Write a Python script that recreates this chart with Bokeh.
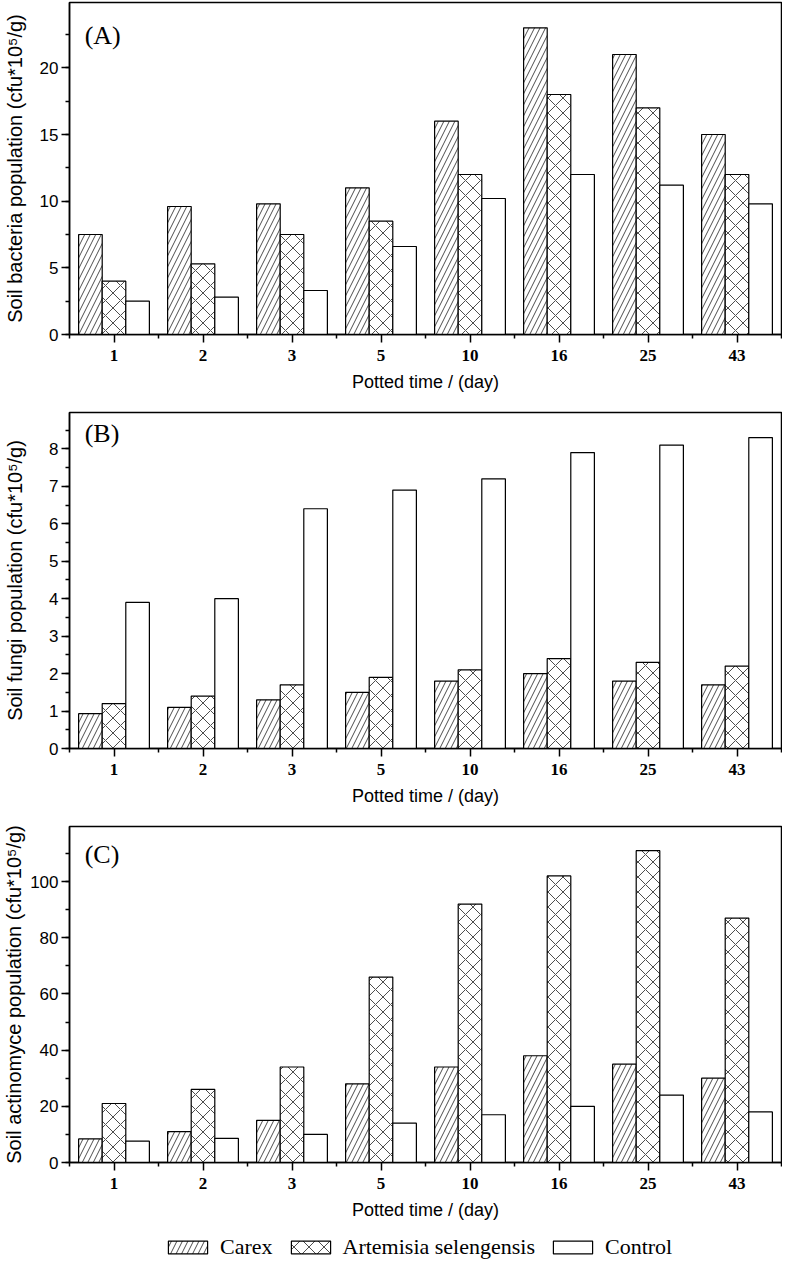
import numpy as np
from bokeh.plotting import figure
from bokeh.layouts import column
from bokeh.models import (ColumnDataSource, Range1d, SingleIntervalTicker,
                          FixedTicker, Label, Legend, LegendItem)
from bokeh.transform import dodge
from bokeh.embed import file_html
from bokeh.resources import INLINE

# potted time (day) categories and the three treatments
days = ["1", "2", "3", "5", "10", "16", "25", "43"]
groups = ["Carex", "Artemisia selengensis", "Control"]

# (A) soil bacteria, cfu*10^5/g
bacteria_carex = [7.5, 9.6, 9.8, 11, 16, 23, 21, 15]
bacteria_artemisia = [4.0, 5.3, 7.5, 8.5, 12, 18, 17, 12]
bacteria_control = [2.5, 2.8, 3.3, 6.6, 10.2, 12, 11.2, 9.8]

# (B) soil fungi
fungi_carex = [0.93, 1.1, 1.3, 1.5, 1.8, 2.0, 1.8, 1.7]
fungi_artemisia = [1.2, 1.4, 1.7, 1.9, 2.1, 2.4, 2.3, 2.2]
fungi_control = [3.9, 4.0, 6.4, 6.9, 7.2, 7.9, 8.1, 8.3]

# (C) soil actinomyce
actino_carex = [8.4, 11, 15, 28, 34, 38, 35, 30]
actino_artemisia = [21, 26, 34, 66, 92, 102, 111, 87]
actino_control = [7.6, 8.6, 10, 14, 17, 20, 24, 18]

SANS = "Liberation Sans"
SERIF = "Liberation Serif"
BAR_W = 0.265

# one style per treatment (fill pattern)
styles = [dict(hatch_pattern="/", hatch_scale=11),
          dict(hatch_pattern="x", hatch_scale=15),
          dict()]
bar_line = dict(line_color="black", line_width=1.2, fill_color="white",
                hatch_color="black", hatch_weight=0.7)


def make_panel(tag, ylabel, carex, artemisia, control, ymax, step,
               height, border_bottom, tag_offset, label_standoff):
    n = len(days)
    centers = np.arange(n) + 0.5
    src = ColumnDataSource(dict(x=centers, carex=carex,
                                artemisia=artemisia, control=control))
    p = figure(width=782, height=height,
               x_range=Range1d(0, n), y_range=Range1d(0, ymax),
               output_backend="svg", toolbar_location=None,
               min_border_left=65, min_border_right=1,
               min_border_top=2, min_border_bottom=border_bottom)

    for col, off, st in zip(["carex", "artemisia", "control"],
                            [-BAR_W, 0, BAR_W], styles):
        p.vbar(x=dodge("x", off, range=p.x_range), top=col, width=BAR_W,
               source=src, **bar_line, **st)

    p.xgrid.visible = False
    p.ygrid.visible = False
    p.outline_line_color = "black"
    p.outline_line_width = 1.5
    p.outline_line_alpha = 1

    # x axis: labels at group centres, small ticks between groups
    p.xaxis.ticker = FixedTicker(ticks=list(centers),
                                 minor_ticks=list(range(n + 1)))
    p.xaxis.major_label_overrides = {float(c): d for c, d in zip(centers, days)}
    p.xaxis.axis_label = "Potted time / (day)"

    p.yaxis.ticker = SingleIntervalTicker(interval=step, num_minor_ticks=2)
    p.yaxis.axis_label = ylabel

    for ax in (p.xaxis, p.yaxis):
        ax.axis_line_width = 1.5
        ax.axis_line_color = "black"
        ax.major_tick_in = 0
        ax.major_tick_out = 8
        ax.minor_tick_in = 0
        ax.minor_tick_out = 4
        ax.major_tick_line_width = 1.5
        ax.minor_tick_line_width = 1.5
        ax.major_tick_line_color = "black"
        ax.minor_tick_line_color = "black"
        ax.axis_label_text_font = SANS
        ax.axis_label_text_font_style = "normal"
        ax.axis_label_text_color = "black"
        ax.major_label_text_color = "black"

    p.xaxis.major_label_text_font = SERIF
    p.xaxis.major_label_text_font_style = "bold"
    p.xaxis.major_label_text_font_size = "17px"
    p.xaxis.major_label_standoff = 7
    p.xaxis.axis_label_text_font_size = "18px"
    p.xaxis.axis_label_standoff = 8

    p.yaxis.major_label_text_font = SANS
    p.yaxis.major_label_text_font_size = "17px"
    p.yaxis.major_label_standoff = 3
    p.yaxis.axis_label_text_font_size = "20px"
    p.yaxis.axis_label_standoff = label_standoff

    frame_h = height - 2 - border_bottom
    p.add_layout(Label(x=0.17, y=ymax * (1 - tag_offset / frame_h),
                       text=tag, text_font=SERIF, text_font_size="26px",
                       text_baseline="middle", text_color="black"))
    return p


pa = make_panel("(A)", "Soil bacteria population (cfu*10\u2075/g)",
                bacteria_carex, bacteria_artemisia, bacteria_control,
                24.9, 5, 410, 76, 33, 11)
pb = make_panel("(B)", "Soil fungi population (cfu*10\u2075/g)",
                fungi_carex, fungi_artemisia, fungi_control,
                8.97, 1, 414, 76, 21, 20)
pc = make_panel("(C)", "Soil actinomyce population (cfu*10\u2075/g)",
                actino_carex, actino_artemisia, actino_control,
                119.6, 20, 406, 68, 28, 2)

# shared legend underneath the last panel; its swatches come from
# zero-height proxy bars placed outside the visible range
pl = figure(width=782, height=31, x_range=Range1d(0, 1), y_range=Range1d(0, 1),
            output_backend="svg", toolbar_location=None,
            x_axis_type=None, y_axis_type=None, min_border=0)
pl.outline_line_color = None
pl.xgrid.visible = False
pl.ygrid.visible = False
proxy = ColumnDataSource(dict(x=[-5.0], top=[-5.0]))
items = []
for g, st in zip(groups, styles):
    r = pl.vbar(x="x", top="top", bottom=-5.0, width=0.1, source=proxy,
                **bar_line, **st)
    items.append(LegendItem(label=g, renderers=[r]))
legend = Legend(items=items, orientation="horizontal", location=(94, 1),
                glyph_width=49, glyph_height=16, label_standoff=8,
                spacing=13, padding=0, margin=0,
                label_text_font=SERIF, label_text_font_size="22px",
                label_text_color="black", border_line_color=None,
                background_fill_alpha=0)
pl.add_layout(legend)

layout = column(pa, pb, pc, pl, spacing=0)
open("out.html", "w").write(file_html(layout, INLINE))
